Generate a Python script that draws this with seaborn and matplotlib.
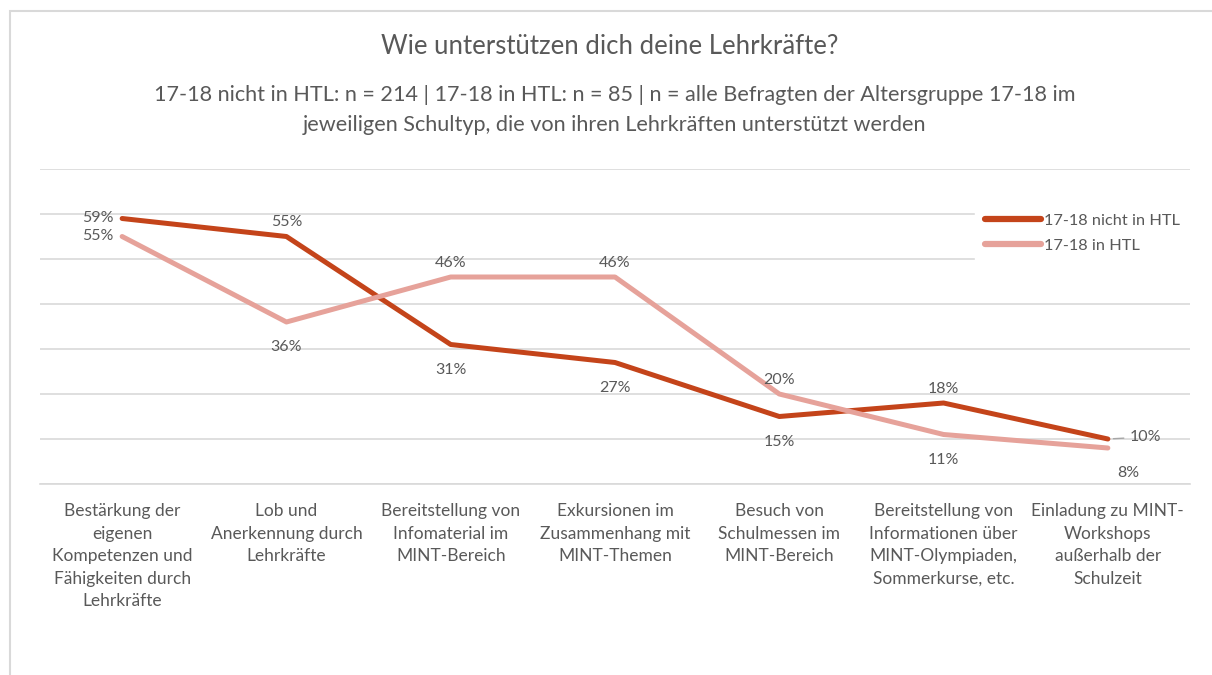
import matplotlib
matplotlib.use("Agg")
import matplotlib.pyplot as plt
from matplotlib.patches import Rectangle
from matplotlib.lines import Line2D
import seaborn as sns
import pandas as pd
import numpy as np

categories = [
    "Bestärkung der\neigenen\nKompetenzen und\nFähigkeiten durch\nLehrkräfte",
    "Lob und\nAnerkennung durch\nLehrkräfte",
    "Bereitstellung von\nInfomaterial im\nMINT-Bereich",
    "Exkursionen im\nZusammenhang mit\nMINT-Themen",
    "Besuch von\nSchulmessen im\nMINT-Bereich",
    "Bereitstellung von\nInformationen über\nMINT-Olympiaden,\nSommerkurse, etc.",
    "Einladung zu MINT-\nWorkshops\naußerhalb der\nSchulzeit",
]
series_names = ["17-18 nicht in HTL", "17-18 in HTL"]
nicht_htl = [59, 55, 31, 27, 15, 18, 10]
in_htl = [55, 36, 46, 46, 20, 11, 8]

title = "Wie unterstützen dich deine Lehrkräfte?"
subtitle = ("17-18 nicht in HTL: n = 214 | 17-18 in HTL: n = 85 | n = alle Befragten der Altersgruppe 17-18 im\n"
            "jeweiligen Schultyp, die von ihren Lehrkräften unterstützt werden")

# label placement per point (style)
pos_nicht = ["left", "above", "below", "below", "below", "above", "right"]
pos_in = ["left", "below", "above", "above", "above", "below", "below8"]

colors = {"17-18 nicht in HTL": "#C4441A", "17-18 in HTL": "#E6A29A"}
TXT = "#595959"
GRID = "#D9D9D9"

sns.set_theme(style="white")
plt.rcParams['font.family'] = ['Lato', 'DejaVu Sans']

df = pd.DataFrame({
    "x": list(range(len(categories))) * 2,
    "value": nicht_htl + in_htl,
    "series": [series_names[0]] * len(nicht_htl) + [series_names[1]] * len(in_htl),
})

W, H = 1212, 675
fig = plt.figure(figsize=(W / 100, H / 100), dpi=100)
fig.patch.set_facecolor("white")

# outer border
fig.add_artist(Rectangle((10 / W, -0.1), 1.5, (1 - 11 / H) + 0.1, transform=fig.transFigure,
                         fill=False, edgecolor=GRID, linewidth=1.5))

ax = fig.add_axes([40 / W, 1 - 484 / H, (1190 - 40) / W, (484 - 169) / H])
ax.set_facecolor("none")

sns.lineplot(data=df, x="x", y="value", hue="series", palette=colors, linewidth=3.6,
             ax=ax, legend=False, zorder=3)
for ln in ax.get_lines():
    ln.set_solid_capstyle("round")

ax.set_xlim(-0.5, len(categories) - 0.5)
ax.set_ylim(0, 70)
ax.set_yticks(np.arange(0, 71, 10))
ax.yaxis.grid(True, color=GRID, linewidth=1.2)
ax.set_axisbelow(True)
ax.tick_params(axis="y", left=False, labelleft=False)
for s in ["top", "right", "left"]:
    ax.spines[s].set_visible(False)
ax.spines["bottom"].set_color(GRID)
ax.spines["bottom"].set_linewidth(1.2)

ax.set_xticks(range(len(categories)))
ax.set_xticklabels(categories, fontsize=12.5, color=TXT, linespacing=1.5, va="top")
ax.tick_params(axis="x", which="major", length=0, pad=14)
ax.set_xticks(np.arange(-0.5, len(categories), 1), minor=True)
ax.tick_params(axis="x", which="minor", length=6, color=GRID, width=1.2)
ax.set_xlabel("")
ax.set_ylabel("")


def place(vals, poss):
    for i, (v, p) in enumerate(zip(vals, poss)):
        t = f"{v}%"
        kw = dict(fontsize=11.5, color=TXT, textcoords="offset pixels", zorder=5)
        if p == "left":
            ax.annotate(t, (i, v), xytext=(-9, 0), ha="right", va="center", **kw)
        elif p == "above":
            ax.annotate(t, (i, v), xytext=(0, 14), ha="center", va="center", **kw)
        elif p == "below":
            ax.annotate(t, (i, v), xytext=(0, -25), ha="center", va="center", **kw)
        elif p == "below8":
            ax.annotate(t, (i, v), xytext=(20, -25), ha="center", va="center", **kw)
        elif p == "right":
            ax.annotate(t, (i, v), xytext=(22, 2), ha="left", va="center",
                        arrowprops=dict(arrowstyle="-", color="#A6A6A6", lw=1,
                                        shrinkA=2, shrinkB=4), **kw)


place(nicht_htl, pos_nicht)
place(in_htl, pos_in)

handles = [Line2D([0], [0], color=colors[n], linewidth=4.5, solid_capstyle="round") for n in series_names]
leg = ax.legend(handles, series_names, loc="upper right", bbox_to_anchor=(1.0, 0.89),
                frameon=True, fontsize=11.8, handlelength=3.4, handletextpad=0.2,
                labelspacing=0.65, borderpad=0.6, borderaxespad=0)
leg.get_frame().set_edgecolor("white")
leg.get_frame().set_facecolor("white")
leg.get_frame().set_alpha(1)
leg.set_zorder(6)
for t in leg.get_texts():
    t.set_color(TXT)

fig.text(0.503, 1 - 47 / H, title, ha="center", va="center", fontsize=18.5, color=TXT)
fig.text(0.507, 1 - 110 / H, subtitle, ha="center", va="center", fontsize=15.6, color=TXT,
         linespacing=1.6)

fig.savefig("out.png", dpi=100)
